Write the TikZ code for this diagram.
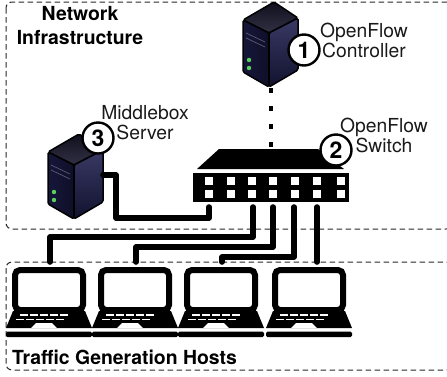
\documentclass[tikz,border=0pt]{standalone}
\usepackage{fontspec}
\setmainfont{TeX Gyre Heros}
\usetikzlibrary{
  calc,
  positioning
}
\definecolor{towerleft}{RGB}{22,22,58}
\definecolor{towerright}{RGB}{22,22,74}
\definecolor{towertop}{RGB}{26,26,48}
\definecolor{ledgreen}{RGB}{90,210,90}
\definecolor{boxgray}{RGB}{40,40,40}
\tikzset{
  regionbox/.style={draw=boxgray, line width=1pt, dash pattern=on 5.5pt off 3.5pt, rounded corners=6pt},
  cable/.style={draw=black, line width=5.6pt, line cap=round, line join=round},
  badge/.style={circle, draw=black, fill=white, line width=2.4pt, minimum size=31pt, inner sep=0pt, font=\fontsize{23}{23}\selectfont\bfseries},
  caption/.style={align=center, inner sep=0pt, text=black!90, font=\fontsize{19.3}{20}\selectfont},
  heading/.style={align=center, inner sep=0pt, font=\fontsize{19.4}{24}\selectfont\bfseries},
  towerbox/.pic={
    \draw[black, line width=1.5pt, line join=round, rounded corners=1.5pt, top color=towertop!60!black, bottom color=towertop!90!white] (0,0) -- (31,-18) -- (55,-2) -- (26,13) -- cycle;
    \draw[black, line width=1.5pt, line join=round, rounded corners=1.5pt, left color=towerleft, right color=towerleft!70!black] (0,0) -- (26,13) -- (26,67) -- (0,52) -- cycle;
    \draw[black, line width=1.5pt, line join=round, rounded corners=1.5pt, top color=towerright!85!white, bottom color=towerleft!80!black] (26,13) -- (55,-2) -- (55,50) -- (26,67) -- cycle;
    \draw[white!30!towerleft, line width=0.7pt] (3,13) -- (22,22);
    \draw[white!30!towerleft, line width=0.7pt] (3,18) -- (22,27);
    \fill[ledgreen] (6,40) circle (2.2);
    \fill[ledgreen] (6,48) circle (2.2);
  },
  laptopbox/.pic={
    % screen
    \draw[black, fill=white, line width=6pt, rounded corners=5pt] (15,3) rectangle (83,43);
    % base
    \fill[black] (13,44) -- (85,44) -- (92,61) -- (6,61) -- cycle;
    \fill[white] (31,61) -- (36,56) -- (52,56) -- (57,61) -- cycle;
    \draw[white, line width=1.5pt, dash pattern=on 8pt off 2pt] (20,48) -- (69,48);
    \draw[white, line width=1.5pt, dash pattern=on 8pt off 2pt] (16,52.5) -- (65,52.5);
    \fill[black, rounded corners=1.5pt] (6,64.5) rectangle (92,70);
  }
}
\begin{document}
\begin{tikzpicture}[x=1pt, y=-1pt]
  \useasboundingbox (0,0) rectangle (447,376);
  \clip (0,0) rectangle (447,376);
  % Regions
  \draw[regionbox] (6,2) rectangle (452,229);
  \draw[regionbox] (6,262) rectangle (452,370);
  % Controller and middlebox
  \pic at (243,20) {towerbox};
  \pic at (48,152) {towerbox};
  % Switch
  \fill[black] (197,169) -- (219,149) -- (318,149) -- (344,169) -- cycle;
  \node[fill=black, minimum width=156pt, minimum height=29pt, inner sep=0pt] (switch) at (271,187.5) {};
  \foreach \portx in {209,231,252,273,295,317,341} {
    \fill[white] (\portx-4,177) rectangle (\portx+4,185);
    \fill[white] (\portx-4,190) rectangle (\portx+4,198);
  }
  % Hosts
  \foreach \hostx in {0,86,172,260} {
    \pic at (\hostx,267) {laptopbox};
  }
  % Ends of the connectors
  \coordinate (ctrlport) at (271,88);
  \coordinate (switchtop) at (271,147);
  \coordinate (mboxport) at (103,175);
  \coordinate (portone) at (209,207);
  \coordinate (porttwo) at (253,207);
  \coordinate (portthree) at (273,207);
  \coordinate (portfour) at (294,207);
  \coordinate (portfive) at (317,207);
  \coordinate (hostone) at (50,262);
  \coordinate (hosttwo) at (136,262);
  \coordinate (hostthree) at (222,262);
  \coordinate (hostfour) at (317,262);
  % Connectors
  \draw[black, line width=4pt, dash pattern=on 5pt off 13pt] (ctrlport) -- (switchtop);
  \draw[cable] (mboxport) -- ++(13,0) -- ++(0,43) -| (portone);
  \draw[cable] (hostone) -- ++(0,-25) -| (porttwo);
  \draw[cable] (hosttwo) -- ++(0,-15) -| (portthree);
  \draw[cable] (hostthree) -- ++(0,-5) -| (portfour);
  \draw[cable] (hostfour) -- (portfive);
  % Labels
  \node[caption] (ctrllabel) at (364,40) {OpenFlow\\Controller};
  \node[caption] (switchlabel) at (384,135) {OpenFlow\\Switch};
  \node[caption] (mboxlabel) at (145,123) {Middlebox\\Server};
  \node[heading] (netlabel) at (80,26) {Network\\Infrastructure};
  \node[heading, anchor=west] (hostlabel) at (12,357) {Traffic Generation Hosts};
  \node[badge] (badgeone) at (304,50) {1};
  \node[badge] (badgetwo) at (336,150) {2};
  \node[badge] (badgethree) at (98,138) {3};
\end{tikzpicture}
\end{document}
